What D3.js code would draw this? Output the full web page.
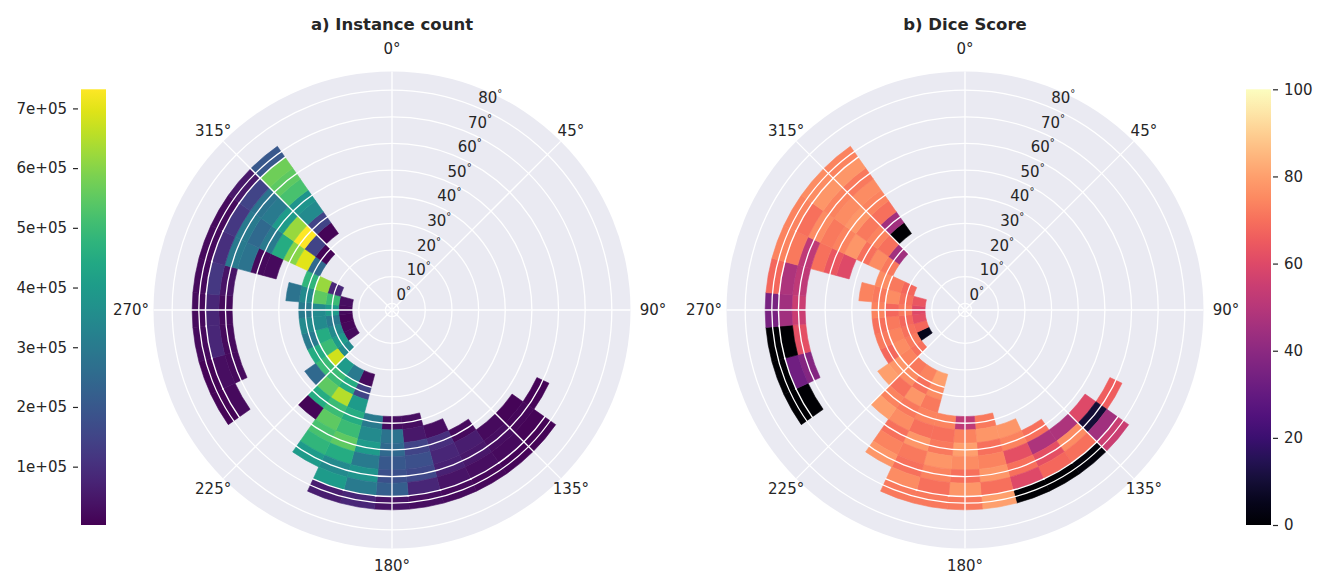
<!DOCTYPE html>
<html>
<head>
<meta charset="utf-8">
<title>polar heatmaps</title>
<script src="https://cdn.jsdelivr.net/npm/d3@7"></script>
<style>
    body {margin: 0; background: #fff;}
    text {font-family: "DejaVu Sans", sans-serif; fill: #262626;}
</style>
</head>
<body>
<div id="container"></div>
<script>
// azimuth bin centres (deg) and radial bin centres (deg), bins are 10 x 5
const thetaBins = [120,130,140,150,160,170,180,190,200,210,220,230,240,250,260,270,280,290,300,310,320];
const radialBins = [15,20,25,30,35,40,45,50,55,60,65,70];
const gapEdges = [27.5, 67.5];
const _ = null;

// instance count, in units of 1e4
const instanceCount = [
    [_,_,_,_,_,_,_,_,_,1,_,_],
    [_,_,_,_,_,_,_,_,1,1.5,1,1],
    [_,_,_,_,_,_,_,_,2,3,2,1],
    [_,_,_,_,_,_,_,2,6,5,3,1.5],
    [_,_,_,_,_,_,3,10,8,7,4,2],
    [_,_,_,_,_,3,5,15,18,16,8,3],
    [_,_,_,_,_,3,28,25,20,18,22,4],
    [_,_,_,_,_,30,35,40,30,38,30,8],
    [_,_,2,15,40,45,50,55,45,35,40,6],
    [_,_,30,45,65,50,55,52,48,40,_,_],
    [_,_,40,50,55,45,1,_,_,_,_,_],
    [_,35,68,50,25,_,_,_,_,_,_,_],
    [2,40,50,45,_,_,_,_,_,_,2,1],
    [1.5,35,45,30,_,_,_,_,_,2,3,1],
    [1,30,35,35,_,_,_,_,_,2,8,2],
    [2,40,35,30,_,_,_,_,_,2,8,2],
    [3,50,55,35,28,_,_,_,_,4,12,2],
    [_,8,62,48,_,_,2,2,28,30,10,2],
    [_,_,_,25,70,60,45,30,25,30,12,2],
    [_,_,_,1,15,73,62,40,30,28,15,5],
    [_,_,_,_,1,15,35,38,52,55,57,20]
];

// dice score, 0..100
const diceScore = [
    [_,_,_,_,_,_,_,_,_,66,_,_],
    [_,_,_,_,_,_,_,_,60,10,45,55],
    [_,_,_,_,_,_,_,_,48,76,70,2],
    [_,_,_,_,_,_,_,70,48,62,68,0],
    [_,_,_,_,_,_,78,74,62,70,60,0],
    [_,_,_,_,_,72,78,70,74,78,70,80],
    [_,_,_,_,_,52,74,80,76,70,78,72],
    [_,_,_,_,_,74,70,72,78,74,70,72],
    [_,_,80,76,72,74,70,78,72,70,76,72],
    [_,_,74,70,78,72,76,70,74,78,_,_],
    [_,_,72,76,70,74,80,_,_,_,_,_],
    [_,70,74,78,80,_,_,_,_,_,_,_],
    [5,72,76,68,_,_,_,_,_,_,0,0],
    [68,70,74,72,_,_,_,_,_,38,33,0],
    [62,68,72,70,_,_,_,_,_,62,0,0],
    [60,72,68,74,_,_,_,_,_,55,45,35],
    [64,70,76,72,74,_,_,_,_,52,48,68],
    [_,68,72,76,_,_,60,64,70,52,72,74],
    [_,_,_,72,76,70,78,74,72,76,70,74],
    [_,_,_,45,70,74,72,78,76,74,78,76],
    [_,_,_,_,0,45,70,74,76,72,78,74]
];

const angleTicks = [0,45,90,135,180,225,270,315];
const radialTicks = [0,10,20,30,40,50,60,70,80];
const countTicks = [1e5,2e5,3e5,4e5,5e5,6e5,7e5];
const diceTicks = [0,20,40,60,80,100];

const W = 1317, H = 578;
const svg = d3.select('#container').append('svg')
    .attr('width', W).attr('height', H);
svg.append('rect').attr('width', W).attr('height', H).attr('fill', '#fff');

const rad = d => d * Math.PI / 180;
const r = d3.scaleLinear().domain([-2.5, 87]).range([0, 238.5]);
const R = r(87);

function drawPanel(cx, cy, title, values, scale, color) {
    const g = svg.append('g').attr('transform', `translate(${cx},${cy})`);
    g.append('circle').attr('r', R).attr('fill', '#eaeaf2');

    const arc = d3.arc();
    const cells = [];
    thetaBins.forEach((t, i) => radialBins.forEach((u, j) => {
        const v = values[i][j];
        if (v != null) cells.push({t, u, v});
    }));
    g.selectAll('path.cell').data(cells).join('path')
        .attr('class', 'cell')
        .attr('d', d => arc({
            innerRadius: r(d.u - 2.5), outerRadius: r(d.u + 2.5),
            startAngle: rad(d.t - 5), endAngle: rad(d.t + 5)
        }))
        .attr('fill', d => color(scale(d.v)))
        .attr('stroke', d => color(scale(d.v)))
        .attr('stroke-width', 0.6);

    // thin white seams between some rings of bins
    const seams = cells.filter(d => gapEdges.includes(d.u + 2.5));
    g.selectAll('path.seam').data(seams).join('path')
        .attr('class', 'seam')
        .attr('d', d => arc({
            innerRadius: r(d.u + 2.5) - 0.7, outerRadius: r(d.u + 2.5) + 0.7,
            startAngle: rad(d.t - 5.3), endAngle: rad(d.t + 5.3)
        }))
        .attr('fill', '#fff');

    // grid on top
    g.selectAll('circle.grid').data(radialTicks).join('circle')
        .attr('class', 'grid')
        .attr('r', d => r(d))
        .attr('fill', 'none').attr('stroke', '#fff').attr('stroke-width', 1.3);
    g.selectAll('line.spoke').data(angleTicks).join('line')
        .attr('x1', 0).attr('y1', 0)
        .attr('x2', d => R * Math.sin(rad(d)))
        .attr('y2', d => -R * Math.cos(rad(d)))
        .attr('stroke', '#fff').attr('stroke-width', 1.3);

    const labelR = d => (d === 180 ? 256 : 253 + 8 * Math.abs(Math.cos(rad(2 * d))));
    g.selectAll('text.ang').data(angleTicks).join('text')
        .attr('class', 'ang')
        .attr('x', d => labelR(d) * Math.sin(rad(d)))
        .attr('y', d => -labelR(d) * Math.cos(rad(d)))
        .attr('text-anchor', 'middle').attr('dominant-baseline', 'central')
        .attr('font-size', 15)
        .text(d => d + '°');

    const rl = g.selectAll('text.rl').data(radialTicks).join('text')
        .attr('class', 'rl')
        .attr('x', d => r(d) * Math.sin(rad(22.5)) + 2)
        .attr('y', d => -r(d) * Math.cos(rad(22.5)) - 9)
        .attr('dominant-baseline', 'central')
        .attr('font-size', 15);
    rl.append('tspan').text(d => d);
    rl.append('tspan').attr('font-size', 10).attr('dy', -5).text('°');

    svg.append('text')
        .attr('x', cx).attr('y', 30)
        .attr('text-anchor', 'middle')
        .attr('font-size', 16.5).attr('font-weight', 'bold')
        .text(title);
}

const countScale = d => d * 1e4;
const countColor = d3.scaleSequential(d3.interpolateViridis).domain([2300, 732000]);
const diceColor = d3.scaleSequential(d3.interpolateMagma).domain([0, 100]);

drawPanel(392, 310, 'a) Instance count', instanceCount, countScale, countColor);
drawPanel(965, 310, 'b) Dice Score', diceScore, d => d, diceColor);

// colour bars
function colorBar(x, domain, interp, ticks, fmt, side) {
    const top = 89.3, bottom = 525, w = 25;
    const id = 'grad' + Math.round(x);
    const grad = svg.append('defs').append('linearGradient')
        .attr('id', id).attr('x1', 0).attr('x2', 0).attr('y1', 1).attr('y2', 0);
    d3.range(0, 1.0001, 0.05).forEach(s => grad.append('stop')
        .attr('offset', s).attr('stop-color', interp(s)));
    svg.append('rect').attr('x', x).attr('y', top).attr('width', w).attr('height', bottom - top)
        .attr('fill', `url(#${id})`);
    const y = d3.scaleLinear().domain(domain).range([bottom, top]);
    const axis = side === 'left' ? d3.axisLeft(y) : d3.axisRight(y);
    const ax = svg.append('g')
        .attr('transform', `translate(${side === 'left' ? x - 3 : x + w + 2},0)`)
        .call(axis.tickValues(ticks).tickFormat(fmt).tickSize(5).tickPadding(6));
    ax.select('.domain').remove();
    ax.selectAll('.tick line').attr('stroke', '#262626').attr('stroke-width', 1.2);
    ax.selectAll('.tick text').attr('font-size', 15).attr('fill', '#262626')
        .attr('font-family', '"DejaVu Sans", sans-serif');
}

const expFmt = d => {
    const e = Math.floor(Math.log10(d));
    return Math.round(d / Math.pow(10, e)) + 'e+' + String(e).padStart(2, '0');
};
colorBar(81, [2300, 732000], d3.interpolateViridis, countTicks, expFmt, 'left');
colorBar(1246, [0, 100], d3.interpolateMagma, diceTicks, d => d, 'right');
</script>
</body>
</html>
